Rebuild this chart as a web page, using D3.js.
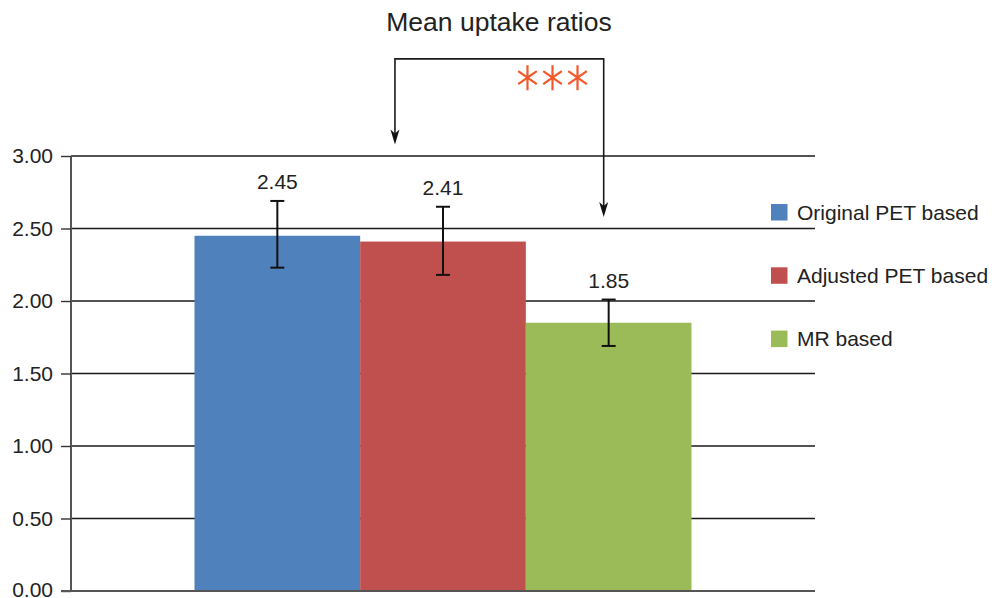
<!DOCTYPE html>
<html>
<head>
<meta charset="utf-8">
<script src="https://cdn.jsdelivr.net/npm/d3@7"></script>
<style>
  html, body { margin: 0; padding: 0; background: #fff; }
  svg { display: block; font-family: "Liberation Sans", Arial, Helvetica, sans-serif; }
</style>
</head>
<body>
<svg id="chart" width="992" height="598"></svg>
<script>
// Chart data
const title = "Mean uptake ratios";
const categories = ["Mean uptake ratios"];
const seriesNames = ["Original PET based", "Adjusted PET based", "MR based"];
const meanValues = [2.45, 2.41, 1.85];
const errorLow = [2.23, 2.18, 1.69];
const errorHigh = [2.69, 2.65, 2.01];
const seriesColors = ["#4f81bd", "#c0504d", "#9bbb59"];
const yTickValues = [0, 0.5, 1.0, 1.5, 2.0, 2.5, 3.0];
const significanceMark = "***";

// Significance bracket, in value units (y) and bar units (x, 0 = start of first bar)
const bracketTop = 3.67;
const bracketLeftTip = 3.08;
const bracketRightTip = 2.58;
const bracketLeftX = 1.21;
const bracketRightX = 2.47;
const starsY = 3.54;
const starsX = 2.01;
const starsStep = 0.151;

const svg = d3.select("#chart");
const plot = { left: 71, right: 815, top: 156, bottom: 591 };

const x = d3.scaleBand()
  .domain(categories)
  .range([plot.left, plot.right])
  .paddingInner(0)
  .paddingOuter(0.2485);

const xs = d3.scaleBand()
  .domain(seriesNames)
  .range([0, x.bandwidth()]);

const y = d3.scaleLinear().domain([0, 3]).range([plot.bottom, plot.top]);

const groupX = x(categories[0]);
const barUnit = v => groupX + v * xs.step();

// Horizontal gridlines
svg.append("g")
  .selectAll("line")
  .data(yTickValues.filter(d => d > 0))
  .join("line")
  .attr("x1", plot.left)
  .attr("x2", plot.right)
  .attr("y1", d => y(d))
  .attr("y2", d => y(d))
  .attr("stroke", "#1a1a1a")
  .attr("stroke-width", 1.4);

// Bars
const rows = seriesNames.map((s, i) => ({
  name: s, mean: meanValues[i], lo: errorLow[i], hi: errorHigh[i], color: seriesColors[i]
}));

svg.append("g")
  .selectAll("rect")
  .data(rows)
  .join("rect")
  .attr("x", d => groupX + xs(d.name))
  .attr("width", xs.bandwidth())
  .attr("y", d => y(d.mean))
  .attr("height", d => y(0) - y(d.mean))
  .attr("fill", d => d.color);

// Error bars
const eb = svg.append("g").attr("stroke", "#111").attr("stroke-width", 2);
const capHalf = 7;
rows.forEach(d => {
  const cx = groupX + xs(d.name) + xs.bandwidth() / 2;
  eb.append("line").attr("x1", cx).attr("x2", cx).attr("y1", y(d.hi)).attr("y2", y(d.lo));
  eb.append("line").attr("x1", cx - capHalf).attr("x2", cx + capHalf).attr("y1", y(d.hi)).attr("y2", y(d.hi));
  eb.append("line").attr("x1", cx - capHalf).attr("x2", cx + capHalf).attr("y1", y(d.lo)).attr("y2", y(d.lo));
});

// Value labels above the error bars
svg.append("g")
  .selectAll("text")
  .data(rows)
  .join("text")
  .attr("x", d => groupX + xs(d.name) + xs.bandwidth() / 2)
  .attr("y", d => y(d.hi) - 12)
  .attr("text-anchor", "middle")
  .attr("font-size", 21)
  .attr("fill", "#222")
  .text(d => d.mean.toFixed(2));

// Y axis
const yAxis = d3.axisLeft(y)
  .tickValues(yTickValues)
  .tickFormat(d3.format(".2f"))
  .tickSize(10)
  .tickPadding(8);

const ag = svg.append("g")
  .attr("transform", `translate(${plot.left},0)`)
  .call(yAxis);
ag.select(".domain").attr("stroke", "#555").attr("stroke-width", 2).attr("d", `M0,${plot.top}V${plot.bottom}`);
ag.selectAll(".tick line").attr("stroke", "#333").attr("stroke-width", 1.4);
ag.selectAll(".tick text")
  .attr("font-size", 21)
  .attr("font-family", "'Liberation Sans', Arial, Helvetica, sans-serif")
  .attr("fill", "#222")
  .attr("dy", d => d === 0 ? "0.26em" : "0.32em");

// Baseline
svg.append("line")
  .attr("x1", plot.left - 10)
  .attr("x2", plot.right)
  .attr("y1", y(0))
  .attr("y2", y(0))
  .attr("stroke", "#555")
  .attr("stroke-width", 2.2);

// Title
svg.append("text")
  .attr("x", 499)
  .attr("y", 31)
  .attr("text-anchor", "middle")
  .attr("font-size", 26.5)
  .attr("fill", "#222")
  .text(title);

// Significance bracket with arrowheads
const bx1 = barUnit(bracketLeftX), bx2 = barUnit(bracketRightX);
const by = y(bracketTop), t1 = y(bracketLeftTip), t2 = y(bracketRightTip);
const arrowLen = 15, arrowHalf = 4.5, notch = 4;
svg.append("path")
  .attr("d", `M${bx1},${t1 - arrowLen + notch}V${by}H${bx2}V${t2 - arrowLen + notch}`)
  .attr("fill", "none")
  .attr("stroke", "#1a1a1a")
  .attr("stroke-width", 1.6);

function arrowHead(ax, ay) {
  return `M${ax},${ay}L${ax - arrowHalf},${ay - arrowLen}L${ax},${ay - arrowLen + notch}L${ax + arrowHalf},${ay - arrowLen}Z`;
}
svg.append("g")
  .selectAll("path")
  .data([[bx1, t1], [bx2, t2]])
  .join("path")
  .attr("d", d => arrowHead(d[0], d[1]))
  .attr("fill", "#111");

// Asterisks
const starG = svg.append("g").attr("stroke", "#f2582a").attr("stroke-width", 2.2).attr("fill", "none");
significanceMark.split("").forEach((c, i) => {
  const sx = barUnit(starsX + i * starsStep), sy = y(starsY);
  starG.append("path")
    .attr("d", `M${sx},${sy - 12.5}V${sy + 12.5}` +
               `M${sx - 9.3},${sy - 6.5}L${sx + 9.3},${sy + 6.5}` +
               `M${sx - 9.3},${sy + 6.5}L${sx + 9.3},${sy - 6.5}`);
});

// Legend
const legendTop = 212, legendStep = 63.3;
const lg = svg.append("g");
rows.forEach((d, i) => {
  const cy = legendTop + i * legendStep;
  lg.append("rect").attr("x", 771).attr("y", cy - 8).attr("width", 16.5).attr("height", 16.5).attr("fill", d.color);
  lg.append("text")
    .attr("x", 797)
    .attr("y", cy)
    .attr("dy", "0.36em")
    .attr("font-size", 21)
    .attr("fill", "#222")
    .text(d.name);
});
</script>
</body>
</html>
